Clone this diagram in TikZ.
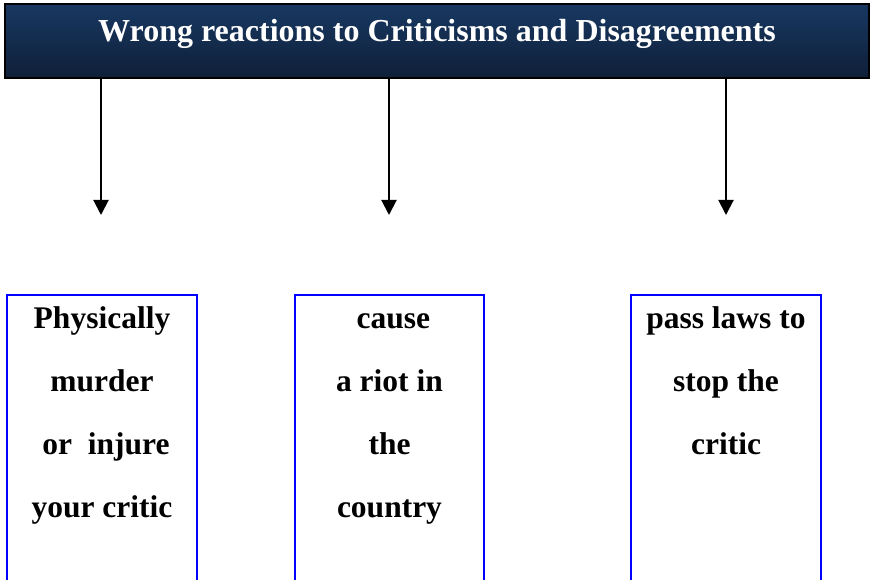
\documentclass[tikz,border=0pt]{standalone}
\usepackage{fontspec}
\setmainfont{Liberation Serif}
\usetikzlibrary{arrows.meta}
\definecolor{navytop}{HTML}{183862}
\definecolor{navybot}{HTML}{0F1F38}
\begin{document}
\begin{tikzpicture}[x=1pt,y=1pt,
  hdrbox/.style={draw=black,line width=2pt,top color=navytop,bottom color=navybot,
    minimum width=864pt,minimum height=74pt,inner sep=0pt},
  title/.style={text=white,font=\fontsize{32}{36}\selectfont\bfseries,inner sep=0pt,anchor=base},
  arr/.style={line width=2pt,-{Triangle[width=15pt,length=15pt]}},
  colbox/.style={draw=blue,line width=1.8pt,minimum height=330pt,anchor=north,inner sep=0pt},
  coltext/.style={inner sep=0pt,anchor=base}
]
\useasboundingbox (0,0) rectangle (872,579);
\clip (0,0) rectangle (872,579);
\node[hdrbox] (hdr) at (437,538) {};
\node[title] (ttl) at (437,537.3) {Wrong reactions to Criticisms and Disagreements};
\coordinate (e1) at (101,364);
\coordinate (e2) at (389,364);
\coordinate (e3) at (726,364);
\draw[arr] (hdr.south -| e1) -- (e1);
\draw[arr] (hdr.south -| e2) -- (e2);
\draw[arr] (hdr.south -| e3) -- (e3);
\node[colbox,minimum width=190pt] (b1) at (102,285) {};
\node[colbox,minimum width=189pt] (b2) at (389.5,285) {};
\node[colbox,minimum width=190pt] (b3) at (726,285) {};
\node[coltext] (t1) at (102,251) {\parbox[t]{190pt}{\centering\fontsize{31.5}{63}\selectfont\bfseries
  Physically\\murder\\\hspace*{.25em}or\ \ injure\\your critic}};
\node[coltext] (t2) at (389.5,251) {\parbox[t]{189pt}{\centering\fontsize{31.5}{63}\selectfont\bfseries
  \hspace*{.25em}cause\\a riot in\\the\\country}};
\node[coltext] (t3) at (726,251) {\parbox[t]{190pt}{\centering\fontsize{31.5}{63}\selectfont\bfseries
  pass laws to\\stop the\\critic}};
\end{tikzpicture}
\end{document}
